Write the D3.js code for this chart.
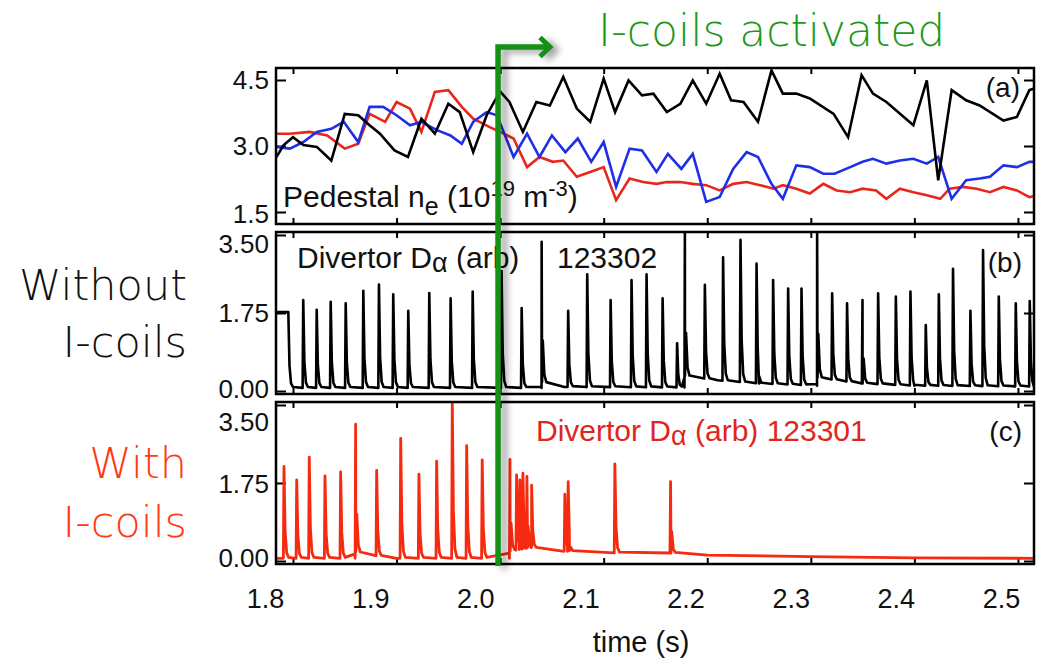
<!DOCTYPE html>
<html><head><meta charset="utf-8">
<script src="https://cdn.jsdelivr.net/npm/d3@7"></script>
<style>body{margin:0;background:#fff} svg{display:block}</style>
</head><body>
<svg id="c" width="1053" height="664"></svg>
<script>
// ---------------- data ----------------
const xTicks = [1.8, 1.9, 2.0, 2.1, 2.2, 2.3, 2.4, 2.5];
const xTickLabels = ["1.8", "1.9", "2.0", "2.1", "2.2", "2.3", "2.4", "2.5"];
const neTicks = [1.5, 3.0, 4.5];
const neTickLabels = ["1.5", "3.0", "4.5"];
const daTicks = [0, 1.75, 3.5];
const daTickLabels = ["0.00", "1.75", "3.50"];

// panel (a) pedestal density, three shots
const neBlackT = [1.784,1.791,1.800,1.810,1.823,1.837,1.850,1.863,1.874,1.884,1.898,1.911,1.924,1.937,1.950,1.961,1.974,1.987,2.000,2.009,2.022,2.035,2.048,2.061,2.074,2.087,2.100,2.111,2.124,2.137,2.148,2.161,2.174,2.186,2.199,2.212,2.223,2.235,2.249,2.262,2.273,2.286,2.299,2.322,2.336,2.349,2.360,2.373,2.399,2.412,2.423,2.436,2.450,2.463,2.486,2.499,2.511,2.515];
const neBlackV = [2.75,3.02,3.20,3.02,2.98,2.67,3.73,3.70,3.47,3.28,2.90,2.75,3.62,3.28,3.96,3.77,2.86,3.70,4.24,4.00,3.32,4.00,3.92,4.57,3.85,3.55,4.53,3.77,4.49,4.15,4.19,3.77,3.96,4.49,3.96,4.64,4.04,4.00,3.55,4.72,4.19,4.19,4.08,3.73,3.20,4.61,4.19,4.00,3.47,4.49,2.22,4.27,4.04,3.92,3.58,3.66,4.27,4.30];
const neRedT = [1.784,1.797,1.816,1.833,1.850,1.863,1.874,1.889,1.900,1.913,1.924,1.937,1.950,1.963,1.974,1.990,2.000,2.013,2.026,2.038,2.051,2.061,2.074,2.087,2.100,2.112,2.125,2.138,2.151,2.161,2.174,2.186,2.199,2.212,2.225,2.238,2.251,2.264,2.273,2.286,2.299,2.312,2.325,2.338,2.350,2.363,2.373,2.386,2.399,2.412,2.425,2.434,2.447,2.460,2.473,2.486,2.499,2.511,2.515];
const neRedV = [3.28,3.28,3.32,3.24,2.94,3.05,3.73,3.55,4.00,3.85,3.32,4.23,4.27,3.89,3.62,3.43,3.32,3.17,2.52,2.75,2.64,2.67,2.30,2.41,2.52,1.77,2.26,2.18,2.14,2.18,2.18,2.14,2.11,1.99,2.14,2.18,2.11,2.03,2.11,2.03,1.92,2.14,1.99,1.95,2.03,1.99,1.80,2.03,1.95,1.88,1.80,2.03,2.07,2.03,1.95,2.07,1.99,1.84,1.86];
const neBlueT = [1.784,1.797,1.810,1.823,1.837,1.849,1.863,1.874,1.887,1.900,1.913,1.924,1.939,1.952,1.963,1.974,1.987,1.997,2.013,2.026,2.038,2.050,2.063,2.075,2.088,2.100,2.112,2.125,2.137,2.151,2.162,2.175,2.186,2.199,2.212,2.225,2.238,2.249,2.262,2.273,2.286,2.299,2.312,2.323,2.338,2.350,2.360,2.373,2.386,2.399,2.412,2.423,2.436,2.450,2.463,2.473,2.486,2.499,2.511,2.515];
const neBlueV = [2.98,2.94,3.09,3.32,3.39,3.55,3.09,3.89,3.89,3.70,3.47,3.55,3.36,3.24,3.05,3.55,3.77,3.70,2.75,3.28,2.75,3.24,2.86,3.17,2.64,3.09,2.07,2.94,2.90,2.41,2.82,2.48,2.82,1.73,1.84,2.48,2.86,2.75,2.14,1.80,2.56,2.52,2.37,2.37,2.52,2.64,2.71,2.60,2.67,2.71,2.60,2.75,1.80,2.22,2.26,2.30,2.56,2.52,2.64,2.64];

// panel (b) divertor D-alpha, shot 123302 (no I-coils): ELM times and peak heights
const bSpikeT = [1.7955,1.8099,1.8229,1.8364,1.8509,1.8679,1.8830,1.8968,1.9113,1.9316,1.9522,1.9735,2.0014,2.0208,2.0401,2.0657,2.0841,2.1067,2.1269,2.1414,2.1569,2.1709,2.1784,2.1977,2.2153,2.2321,2.2476,2.2636,2.2781,2.2910,2.3061,2.3206,2.3350,2.3499,2.3650,2.3821,2.3962,2.4110,2.4236,2.4373,2.4541,2.4663,2.4815,2.4979,2.5114];
const bSpikeH = [1.77,2.04,1.82,2.00,1.97,2.25,2.39,2.17,1.80,2.20,2.08,2.23,2.69,1.86,3.35,1.80,2.62,2.04,2.49,2.62,2.08,1.07,3.60,2.38,3.00,3.39,2.86,2.49,2.30,2.30,3.60,2.19,1.97,2.04,2.19,2.12,2.23,1.48,2.17,2.74,1.80,3.16,2.12,1.97,2.02];
const bStartValue = 1.77;
const bBaseT = [1.7836,2.040,2.0405,2.062,2.178,2.1785,2.21,2.25,2.306,2.3065,2.35,2.40,2.5155];
const bBaseV = [0.07,0.07,0.20,0.09,0.08,0.34,0.24,0.17,0.12,0.30,0.17,0.12,0.10];

// panel (c) divertor D-alpha, shot 123301 (with I-coils)
const cSpikeT = [1.7913,1.8036,1.8157,1.8309,1.8460,1.8605,1.8808,1.9040,1.9216,1.9387,1.9538,1.9677,1.9827,2.0095,2.0159,2.0191,2.0220,2.0259,2.0304,2.0625,2.0657,2.1108,2.1646];
const cSpikeH = [2.12,1.82,2.33,1.91,2.00,3.07,2.03,2.75,1.95,2.24,3.56,2.59,2.27,2.28,1.93,1.82,1.97,1.90,1.70,1.50,1.78,2.18,1.78];
const cBaseT = [1.7836,1.860,1.8607,1.88,1.90,2.009,2.0097,2.03,2.06,2.11,2.165,2.20,2.30,2.40,2.5155];
const cBaseV = [0.06,0.06,0.20,0.12,0.06,0.06,0.22,0.30,0.22,0.18,0.18,0.13,0.10,0.07,0.06];

const iCoilTime = 1.998;

// ---------------- layout ----------------
const svg = d3.select("#c");
const xL = 276, xR = 1034;
const x = d3.scaleLinear().domain([1.7836, 2.5155]).range([xL, xR]);
const xLab = d3.scaleLinear().domain([1.8, 2.5]).range([265, 1001]);
const P = {
  a: {top: 68, bottom: 224, y: d3.scaleLinear().domain([1.5, 4.5]).range([212, 80]), ticks: neTicks, labels: neTickLabels, nudge: [2, 0, 0]},
  b: {top: 232, bottom: 394, y: d3.scaleLinear().domain([0, 3.5]).range([391, 235]), ticks: daTicks, labels: daTickLabels, nudge: [-2, 0, 9]},
  c: {top: 402, bottom: 564, y: d3.scaleLinear().domain([0, 3.5]).range([561, 405]), ticks: daTicks, labels: daTickLabels, nudge: [-3, 1, 17]}
};
const FONT = "'Liberation Sans', Arial, Helvetica, sans-serif";
const THIN = "'DejaVu Sans', sans-serif";

const defs = svg.append("defs");
Object.entries(P).forEach(([k, p]) => {
  defs.append("clipPath").attr("id", "clip-" + k).append("rect")
    .attr("x", xL).attr("y", p.top).attr("width", xR - xL).attr("height", p.bottom - p.top);
});
const f = defs.append("filter").attr("id", "shadow").attr("x", "-50%").attr("y", "-5%").attr("width", "200%").attr("height", "110%");
f.append("feDropShadow").attr("dx", 6).attr("dy", 3).attr("stdDeviation", 3.5)
  .attr("flood-color", "#000").attr("flood-opacity", 0.4);

// helpers
function interp(ts, vs, t) {
  const i = d3.bisectRight(ts, t);
  if (i <= 0) return vs[0];
  if (i >= ts.length) return vs[vs.length - 1];
  const t0 = ts[i - 1], t1 = ts[i];
  return vs[i - 1] + (vs[i] - vs[i - 1]) * (t - t0) / (t1 - t0);
}
function buildTrace(spT, spH, baseT, baseV, startVal) {
  const pts = baseT.map((t, i) => [t, baseV[i]]);
  spT.forEach((t0, i) => {
    const h = spH[i];
    const b0 = interp(baseT, baseV, t0);
    const b1 = interp(baseT, baseV, t0 + 0.0045);
    if (!(i === 0 && startVal != null)) pts.push([t0 - 0.0006, b0]);
    pts.push([t0, h]);
    pts.push([t0 + 0.0011, b1 + (h - b1) * 0.3]);
    pts.push([t0 + 0.0026, b1 + (h - b1) * 0.06]);
    pts.push([t0 + 0.0045, b1 + 0.02]);
  });
  if (startVal != null) {
    const first = spT[0];
    for (let j = pts.length - 1; j >= 0; j--) if (pts[j][0] < first && pts[j][1] < startVal * 0.5) pts.splice(j, 1);
    pts.push([x.domain()[0], startVal]);
  }
  pts.sort((a, b) => a[0] - b[0]);
  return pts;
}

// ---------------- panels ----------------
Object.entries(P).forEach(([k, p]) => {
  const g = svg.append("g");
  const ya = g.append("g").attr("transform", `translate(${xL},0)`)
    .call(d3.axisLeft(p.y).tickValues(p.ticks).tickFormat((d, i) => p.labels[i]).tickSizeInner(-10).tickSizeOuter(0).tickPadding(7));
  ya.select(".domain").remove();
  ya.selectAll("line").attr("stroke", "#000").attr("stroke-width", 2);
  ya.selectAll("text").attr("font-family", FONT).attr("font-size", 26).attr("fill", "#111")
    .attr("y", (d, i) => p.nudge[i]);
  const yr = g.append("g").attr("transform", `translate(${xR},0)`)
    .call(d3.axisRight(p.y).tickValues(p.ticks).tickFormat("").tickSizeInner(-10).tickSizeOuter(0));
  yr.select(".domain").remove();
  yr.selectAll("line").attr("stroke", "#000").attr("stroke-width", 2);
  const xt = g.append("g").attr("transform", `translate(0,${p.top})`)
    .call(d3.axisTop(x).tickValues(xTicks).tickFormat("").tickSizeInner(-6).tickSizeOuter(0));
  xt.select(".domain").remove();
  xt.selectAll("line").attr("stroke", "#000").attr("stroke-width", 2);
  const xb = g.append("g").attr("transform", `translate(0,${p.bottom})`)
    .call(d3.axisBottom(x).tickValues(xTicks).tickFormat("").tickSizeInner(-6).tickSizeOuter(0));
  xb.select(".domain").remove();
  xb.selectAll("line").attr("stroke", "#000").attr("stroke-width", 2);
});

// panel (a) lines
const ga = svg.append("g").attr("clip-path", "url(#clip-a)");
const lineA = d3.line().x(d => x(d[0])).y(d => P.a.y(d[1]));
[[neRedT, neRedV, "#e8261c"], [neBlueT, neBlueV, "#1f2fe6"], [neBlackT, neBlackV, "#000"]].forEach(([ts, vs, col]) => {
  ga.append("path").datum(ts.map((t, i) => [t, vs[i]]))
    .attr("d", lineA).attr("fill", "none").attr("stroke", col).attr("stroke-width", 2.6).attr("stroke-linejoin", "miter");
});

// panel (b) trace
const gb = svg.append("g").attr("clip-path", "url(#clip-b)");
gb.append("path").datum(buildTrace(bSpikeT, bSpikeH, bBaseT, bBaseV, bStartValue))
  .attr("d", d3.line().x(d => x(d[0])).y(d => P.b.y(d[1])))
  .attr("fill", "none").attr("stroke", "#000").attr("stroke-width", 2.6).attr("stroke-linejoin", "round");

// panel (c) trace
const gc = svg.append("g").attr("clip-path", "url(#clip-c)");
gc.append("path").datum(buildTrace(cSpikeT, cSpikeH, cBaseT, cBaseV, null))
  .attr("d", d3.line().x(d => x(d[0])).y(d => P.c.y(d[1])))
  .attr("fill", "none").attr("stroke", "#f52a10").attr("stroke-width", 2.8).attr("stroke-linejoin", "round");

// frames
Object.values(P).forEach(p => {
  svg.append("rect").attr("x", xL).attr("y", p.top).attr("width", xR - xL).attr("height", p.bottom - p.top)
    .attr("fill", "none").attr("stroke", "#000").attr("stroke-width", 2.5);
});

// x tick labels (as printed in the figure)
const xl = svg.append("g").attr("transform", "translate(0,586)")
  .call(d3.axisBottom(xLab).tickValues(xTicks).tickFormat((d, i) => xTickLabels[i]).tickSize(0).tickPadding(3));
xl.select(".domain").remove();
xl.selectAll("text").attr("font-family", FONT).attr("font-size", 27).attr("fill", "#111");

svg.append("text").attr("x", 641).attr("y", 652).attr("text-anchor", "middle")
  .attr("font-family", FONT).attr("font-size", 29).attr("fill", "#111").text("time (s)");

// in-panel labels
const t1 = svg.append("text").attr("x", 283).attr("y", 207).attr("font-family", FONT).attr("font-size", 30).attr("fill", "#111");
t1.append("tspan").text("Pedestal n");
t1.append("tspan").attr("dy", 8).attr("font-size", 25).text("e");
t1.append("tspan").attr("dy", -8).text(" (10");
t1.append("tspan").attr("dy", -11).attr("font-size", 22).text("19");
t1.append("tspan").attr("dy", 11).text(" m");
t1.append("tspan").attr("dy", -11).attr("font-size", 22).text("-3");
t1.append("tspan").attr("dy", 11).text(")");

svg.append("text").attr("x", 1020).attr("y", 97).attr("text-anchor", "end").attr("font-family", FONT).attr("font-size", 28).attr("fill", "#111").text("(a)");
svg.append("text").attr("x", 1022).attr("y", 272).attr("text-anchor", "end").attr("font-family", FONT).attr("font-size", 28).attr("fill", "#111").text("(b)");
svg.append("text").attr("x", 1022).attr("y", 441).attr("text-anchor", "end").attr("font-family", FONT).attr("font-size", 28).attr("fill", "#111").text("(c)");

const t2 = svg.append("text").attr("x", 297).attr("y", 268).attr("font-family", FONT).attr("font-size", 30).attr("fill", "#111");
t2.append("tspan").text("Divertor D");
t2.append("tspan").attr("dy", 4).attr("font-size", 27).text("α");
t2.append("tspan").attr("dy", -4).text(" (arb)");
svg.append("text").attr("x", 557).attr("y", 268).attr("font-family", FONT).attr("font-size", 30).attr("fill", "#111").text("123302");

const t3 = svg.append("text").attr("x", 536).attr("y", 441).attr("font-family", FONT).attr("font-size", 30).attr("fill", "#e0261c");
t3.append("tspan").text("Divertor D");
t3.append("tspan").attr("dy", 4).attr("font-size", 27).text("α");
t3.append("tspan").attr("dy", -4).text(" (arb) 123301");

// left labels
const lab = [["Without", 300, "#111"], ["I-coils", 357, "#111"], ["With", 478, "#ff3a12"], ["I-coils", 537, "#ff3a12"]];
lab.forEach(([s, yy, col]) => {
  svg.append("text").attr("x", 187).attr("y", yy).attr("text-anchor", "end")
    .attr("font-family", THIN).attr("font-weight", 200).attr("font-size", 43).attr("fill", col).text(s);
});

// I-coils activation marker
const gx = x(iCoilTime);
const gg = svg.append("g").attr("filter", "url(#shadow)");
gg.append("path").attr("d", `M${gx},566 V47 H549`).attr("fill", "none")
  .attr("stroke", "#129012").attr("stroke-width", 5.5).attr("stroke-linejoin", "miter");
gg.append("path").attr("d", `M540,37.5 L550,47 L540,56.5`).attr("fill", "none")
  .attr("stroke", "#129012").attr("stroke-width", 5).attr("stroke-linejoin", "miter").attr("stroke-linecap", "butt");
svg.append("text").attr("x", 598).attr("y", 46).attr("font-family", THIN).attr("font-weight", 200)
  .attr("font-size", 44).attr("fill", "#1a991a").text("I-coils activated");
</script>
</body></html>
